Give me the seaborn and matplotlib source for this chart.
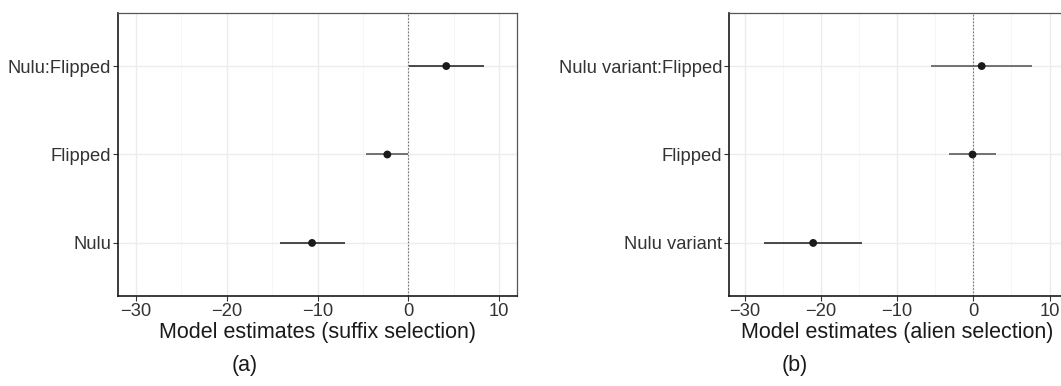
import matplotlib
matplotlib.use("Agg")
import matplotlib.pyplot as plt
import seaborn as sns
import pandas as pd
from matplotlib.ticker import MultipleLocator

# Fixed-effect estimates with 95% intervals, listed bottom to top
terms_a = ["Nulu", "Flipped", "Nulu:Flipped"]
est_a = [-10.6, -2.3, 4.2]
lo_a = [-14.1, -4.6, 0.1]
hi_a = [-7.0, 0.0, 8.4]

terms_b = ["Nulu variant", "Flipped", "Nulu variant:Flipped"]
est_b = [-21.0, -0.1, 1.1]
lo_b = [-27.4, -3.15, -5.55]
hi_b = [-14.65, 3.0, 7.7]

xlabels = ["Model estimates (suffix selection)", "Model estimates (alien selection)"]
captions = ["(a)", "(b)"]

sns.set_theme(style="white")
plt.rcParams["font.family"] = ["Liberation Sans", "DejaVu Sans"]

fig = plt.figure(figsize=(10.61, 3.86), dpi=100)
ax_a = fig.add_axes([118 / 1061, 1 - 296 / 386, 399 / 1061, 283 / 386])
ax_b = fig.add_axes([729.3 / 1061, 1 - 296 / 386, 335.5 / 1061, 283 / 386])

panels = [
    (ax_a, terms_a, est_a, lo_a, hi_a),
    (ax_b, terms_b, est_b, lo_b, hi_b),
]

for i, (ax, terms, est, lo, hi) in enumerate(panels):
    df = pd.DataFrame({"term": terms, "estimate": est, "lo": lo, "hi": hi})
    df["sig"] = (df["hi"] < 0) | (df["lo"] > 0)
    ypos = list(range(len(terms)))

    # grid: major and minor verticals, horizontals at each term
    ax.xaxis.set_major_locator(MultipleLocator(10))
    ax.xaxis.set_minor_locator(MultipleLocator(5))
    ax.set_xlim(-32, 12)
    ax.grid(which="major", axis="both", color="#ececec", lw=1.0, zorder=0)
    ax.grid(which="minor", axis="x", color="#f5f5f5", lw=0.6, zorder=0)
    ax.tick_params(axis="x", which="minor", length=0)
    ax.set_axisbelow(True)

    ax.axvline(0, color="#777777", lw=0.8, ls=(0, (1.5, 1.5)), zorder=1)

    colors = ["#1a1a1a" if s else "#4d4d4d" for s in df["sig"]]
    ax.hlines(ypos, df["lo"], df["hi"], colors=colors, lw=1.1, zorder=2)
    sns.scatterplot(data=df, x="estimate", y=ypos, ax=ax, color="#1a1a1a",
                    s=32, edgecolor="none", zorder=3, legend=False)

    ax.set_yticks(ypos)
    ax.set_yticklabels(terms)
    ax.set_ylim(-0.6, len(terms) - 0.4)
    ax.set_xticks([-30, -20, -10, 0, 10])
    ax.set_xticklabels(["\u221230", "\u221220", "\u221210", "0", "10"])

    ax.tick_params(axis="both", which="major", length=3.5, width=0.8,
                   color="#333333", labelsize=13.2, labelcolor="#333333", pad=1.5,
                   left=True, bottom=True)
    ax.set_xlabel(xlabels[i], fontsize=15.5, color="#1a1a1a", labelpad=1.5)
    ax.set_ylabel("")

    for side in ["top", "right"]:
        ax.spines[side].set_color("#555555")
        ax.spines[side].set_linewidth(0.9)
    for side in ["left", "bottom"]:
        ax.spines[side].set_color("#1a1a1a")
        ax.spines[side].set_linewidth(1.2)

fig.text(245 / 1061, 1 - 366 / 386, captions[0], ha="center", va="center",
         fontsize=15.5, color="#1a1a1a")
fig.text(795 / 1061, 1 - 366 / 386, captions[1], ha="center", va="center",
         fontsize=15.5, color="#1a1a1a")

fig.savefig("out.png", dpi=100, facecolor="white")
